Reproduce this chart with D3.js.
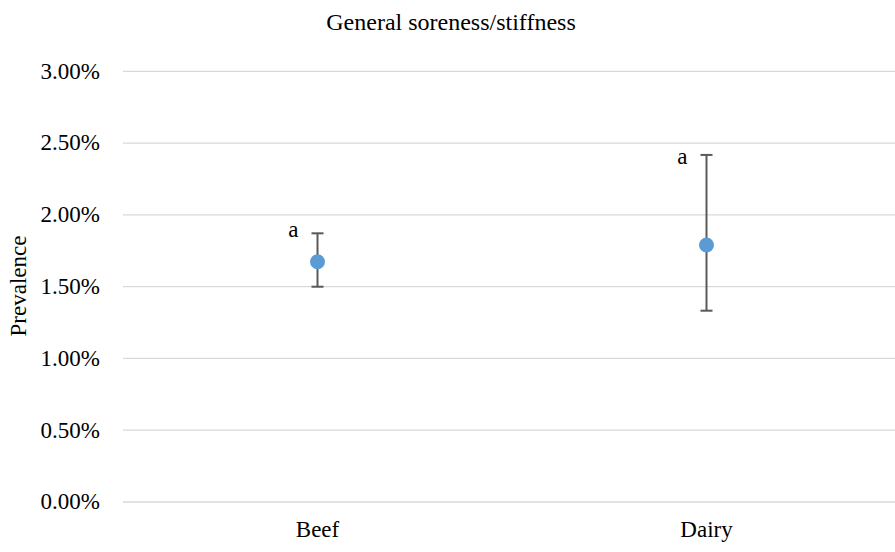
<!DOCTYPE html>
<html><head><meta charset="utf-8">
<script src="https://cdn.jsdelivr.net/npm/d3@7"></script>
</head><body style="margin:0;background:#fff"><svg id="c" width="895" height="552" style="display:block"></svg>
<script>
const categories = ["Beef", "Dairy"];
const prevalence = [0.0167, 0.01787];
const upper = [0.01868, 0.02414];
const lower = [0.01496, 0.01329];
const labels = ["a", "a"];
const labelValues = [0.01842, 0.02351];
const yTicks = [0, 0.005, 0.01, 0.015, 0.02, 0.025, 0.03];
const title = "General soreness/stiffness";
const yTitle = "Prevalence";

const svg = d3.select("#c");
const x = d3.scaleBand().domain(categories).range([123, 901]);
const y = d3.scaleLinear().domain([0, 0.03]).range([501.5, 70.8]);
const fmt = d3.format(".2%");

function serif(sel, size) {
  return sel.attr("fill", "#000").attr("style", "font-family:'Liberation Serif';font-size:" + size + "px");
}

const yAxis = d3.axisLeft(y).tickValues(yTicks).tickFormat(fmt).tickSize(-(901 - 123)).tickPadding(23);
const g = svg.append("g").attr("transform", "translate(123,0)").call(yAxis);
g.attr("font-family", null).attr("font-size", null);
g.select(".domain").remove();
g.selectAll(".tick line").attr("stroke", "#d9d9d9").attr("stroke-width", 1.3);
serif(g.selectAll(".tick text"), 23);

const xAxis = d3.axisBottom(x).tickSize(0).tickPadding(19);
const gx = svg.append("g").attr("transform", "translate(0,501.5)").call(xAxis);
gx.attr("font-family", null).attr("font-size", null);
gx.select(".domain").remove();
serif(gx.selectAll(".tick text"), 23);

const cx = d => x(d) + x.bandwidth() / 2;

const eb = svg.append("g").selectAll("g").data(categories).join("g");
eb.append("line").attr("x1", d => cx(d)).attr("x2", d => cx(d))
  .attr("y1", (d, i) => y(upper[i])).attr("y2", (d, i) => y(lower[i]))
  .attr("stroke", "#595959").attr("stroke-width", 2);
eb.append("line").attr("x1", d => cx(d) - 6).attr("x2", d => cx(d) + 6)
  .attr("y1", (d, i) => y(upper[i])).attr("y2", (d, i) => y(upper[i]))
  .attr("stroke", "#595959").attr("stroke-width", 2);
eb.append("line").attr("x1", d => cx(d) - 6).attr("x2", d => cx(d) + 6)
  .attr("y1", (d, i) => y(lower[i])).attr("y2", (d, i) => y(lower[i]))
  .attr("stroke", "#595959").attr("stroke-width", 2);

svg.append("g").selectAll("circle").data(categories).join("circle")
  .attr("cx", d => cx(d)).attr("cy", (d, i) => y(prevalence[i])).attr("r", 7.5)
  .attr("fill", "#5b9bd5");

serif(svg.append("g").selectAll("text").data(categories).join("text")
  .attr("x", d => cx(d) - 19).attr("y", (d, i) => y(labelValues[i]))
  .attr("text-anchor", "end"), 23).text((d, i) => labels[i]);

serif(svg.append("text").attr("x", 451).attr("y", 30).attr("text-anchor", "middle"), 24).text(title);

serif(svg.append("text").attr("transform", "translate(26,286) rotate(-90)")
  .attr("text-anchor", "middle"), 23).text(yTitle);
</script></body></html>
